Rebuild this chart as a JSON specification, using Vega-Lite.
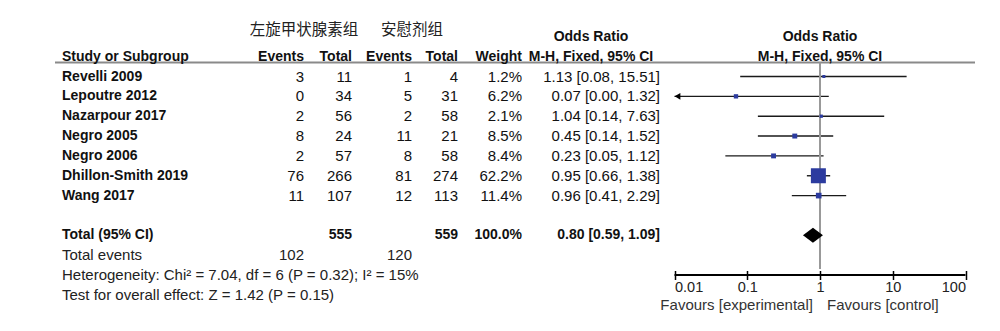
{
  "$schema": "https://vega.github.io/schema/vega-lite/v6.json",
  "width": 1000,
  "height": 331,
  "autosize": {"type": "none"},
  "padding": 0,
  "background": "white",
  "config": {
    "view": {"stroke": null},
    "text": {"font": "Liberation Sans", "fontSize": 15, "baseline": "middle", "fill": "#111"}
  },
  "datasets": {
    "head": [{"study": "Study or Subgroup", "e1": "Events", "t1": "Total", "e2": "Events", "t2": "Total", "w": "Weight", "r": -1}],
    "groups": [{"exp": "左旋甲状腺素组", "ctl": "安慰剂组", "r": -2}],
    "orhead": [{"text": "Odds Ratio", "r": -2}, {"text": "M-H, Fixed, 95% CI", "r": -1}],
    "studies": [
      {"study": "Revelli 2009", "e1": 3, "t1": 11, "e2": 1, "t2": 4, "w": 0.012, "or": 1.13, "lo": 0.08, "hi": 15.51, "r": 0},
      {"study": "Lepoutre 2012", "e1": 0, "t1": 34, "e2": 5, "t2": 31, "w": 0.062, "or": 0.07, "lo": 0.0037, "hi": 1.32, "r": 1},
      {"study": "Nazarpour 2017", "e1": 2, "t1": 56, "e2": 2, "t2": 58, "w": 0.021, "or": 1.04, "lo": 0.14, "hi": 7.63, "r": 2},
      {"study": "Negro 2005", "e1": 8, "t1": 24, "e2": 11, "t2": 21, "w": 0.085, "or": 0.45, "lo": 0.14, "hi": 1.52, "r": 3},
      {"study": "Negro 2006", "e1": 2, "t1": 57, "e2": 8, "t2": 58, "w": 0.084, "or": 0.23, "lo": 0.05, "hi": 1.12, "r": 4},
      {"study": "Dhillon-Smith 2019", "e1": 76, "t1": 266, "e2": 81, "t2": 274, "w": 0.622, "or": 0.95, "lo": 0.66, "hi": 1.38, "r": 5},
      {"study": "Wang 2017", "e1": 11, "t1": 107, "e2": 12, "t2": 113, "w": 0.114, "or": 0.96, "lo": 0.41, "hi": 2.29, "r": 6}
    ],
    "total": [{"study": "Total (95% CI)", "t1": 555, "t2": 559, "w": 1.0, "or": 0.80, "lo": 0.59, "hi": 1.09, "r": 8}],
    "events": [{"e1": 102, "e2": 120, "r": 9}],
    "notes": [
      {"text": "Total events", "r": 9},
      {"text": "Heterogeneity: Chi² = 7.04, df = 6 (P = 0.32); I² = 15%", "r": 10},
      {"text": "Test for overall effect: Z = 1.42 (P = 0.15)", "r": 11}
    ],
    "favours": [{"exp": "Favours [experimental]", "ctl": "Favours [control]"}]
  },
  "layer": [
    {
      "layer": [
        {
          "data": {"name": "head"},
          "mark": {"type": "rule", "stroke": "#8a8a8a", "strokeWidth": 2},
          "encoding": {
            "x": {"datum": 0, "type": "quantitative", "scale": {"type": "linear", "domain": [0,1,2,3,4,5,6,7,8], "range": [55,62,304,352,412,458,522,660,975], "nice": false, "zero": false}, "axis": null},
            "x2": {"datum": 8},
            "y": {"datum": -0.705, "type": "quantitative", "scale": {"type": "linear", "domain": [-3.854, 12.821], "range": [0, 331], "nice": false, "zero": false}, "axis": null}
          }
        },
        {
          "data": {"name": "groups"},
          "mark": {"type": "text", "font": "Noto Sans CJK SC", "fontSize": 15.5, "align": "center", "dy": -7, "fill": "#222"},
          "encoding": {
            "x": {"datum": 2, "type": "quantitative", "scale": {"type": "linear", "domain": [0,1,2,3,4,5,6,7,8], "range": [55,62,304,352,412,458,522,660,975], "nice": false, "zero": false}, "axis": null},
            "y": {"field": "r", "type": "quantitative", "scale": {"type": "linear", "domain": [-3.854, 12.821], "range": [0, 331], "nice": false, "zero": false}, "axis": null},
            "text": {"field": "exp"}
          }
        },
        {
          "data": {"name": "groups"},
          "mark": {"type": "text", "font": "Noto Sans CJK SC", "fontSize": 15.5, "align": "center", "dy": -7, "fill": "#222"},
          "encoding": {
            "x": {"datum": 4, "type": "quantitative", "scale": {"type": "linear", "domain": [0,1,2,3,4,5,6,7,8], "range": [55,62,304,352,412,458,522,660,975], "nice": false, "zero": false}, "axis": null},
            "y": {"field": "r", "type": "quantitative", "scale": {"type": "linear", "domain": [-3.854, 12.821], "range": [0, 331], "nice": false, "zero": false}, "axis": null},
            "text": {"field": "ctl"}
          }
        },
        {
          "data": {"name": "head"},
          "mark": {"type": "text", "fontWeight": "bold", "fontSize": 14, "align": "left"},
          "encoding": {
            "x": {"datum": 1, "type": "quantitative", "scale": {"type": "linear", "domain": [0,1,2,3,4,5,6,7,8], "range": [55,62,304,352,412,458,522,660,975], "nice": false, "zero": false}, "axis": null},
            "y": {"field": "r", "type": "quantitative", "scale": {"type": "linear", "domain": [-3.854, 12.821], "range": [0, 331], "nice": false, "zero": false}, "axis": null},
            "text": {"field": "study"}
          }
        },
        {
          "data": {"name": "head"},
          "mark": {"type": "text", "fontWeight": "bold", "fontSize": 14, "align": "right"},
          "encoding": {
            "x": {"datum": 2, "type": "quantitative", "scale": {"type": "linear", "domain": [0,1,2,3,4,5,6,7,8], "range": [55,62,304,352,412,458,522,660,975], "nice": false, "zero": false}, "axis": null},
            "y": {"field": "r", "type": "quantitative", "scale": {"type": "linear", "domain": [-3.854, 12.821], "range": [0, 331], "nice": false, "zero": false}, "axis": null},
            "text": {"field": "e1"}
          }
        },
        {
          "data": {"name": "head"},
          "mark": {"type": "text", "fontWeight": "bold", "fontSize": 14, "align": "right"},
          "encoding": {
            "x": {"datum": 3, "type": "quantitative", "scale": {"type": "linear", "domain": [0,1,2,3,4,5,6,7,8], "range": [55,62,304,352,412,458,522,660,975], "nice": false, "zero": false}, "axis": null},
            "y": {"field": "r", "type": "quantitative", "scale": {"type": "linear", "domain": [-3.854, 12.821], "range": [0, 331], "nice": false, "zero": false}, "axis": null},
            "text": {"field": "t1"}
          }
        },
        {
          "data": {"name": "head"},
          "mark": {"type": "text", "fontWeight": "bold", "fontSize": 14, "align": "right"},
          "encoding": {
            "x": {"datum": 4, "type": "quantitative", "scale": {"type": "linear", "domain": [0,1,2,3,4,5,6,7,8], "range": [55,62,304,352,412,458,522,660,975], "nice": false, "zero": false}, "axis": null},
            "y": {"field": "r", "type": "quantitative", "scale": {"type": "linear", "domain": [-3.854, 12.821], "range": [0, 331], "nice": false, "zero": false}, "axis": null},
            "text": {"field": "e2"}
          }
        },
        {
          "data": {"name": "head"},
          "mark": {"type": "text", "fontWeight": "bold", "fontSize": 14, "align": "right"},
          "encoding": {
            "x": {"datum": 5, "type": "quantitative", "scale": {"type": "linear", "domain": [0,1,2,3,4,5,6,7,8], "range": [55,62,304,352,412,458,522,660,975], "nice": false, "zero": false}, "axis": null},
            "y": {"field": "r", "type": "quantitative", "scale": {"type": "linear", "domain": [-3.854, 12.821], "range": [0, 331], "nice": false, "zero": false}, "axis": null},
            "text": {"field": "t2"}
          }
        },
        {
          "data": {"name": "head"},
          "mark": {"type": "text", "fontWeight": "bold", "fontSize": 14, "align": "right"},
          "encoding": {
            "x": {"datum": 6, "type": "quantitative", "scale": {"type": "linear", "domain": [0,1,2,3,4,5,6,7,8], "range": [55,62,304,352,412,458,522,660,975], "nice": false, "zero": false}, "axis": null},
            "y": {"field": "r", "type": "quantitative", "scale": {"type": "linear", "domain": [-3.854, 12.821], "range": [0, 331], "nice": false, "zero": false}, "axis": null},
            "text": {"field": "w"}
          }
        },
        {
          "data": {"name": "orhead"},
          "mark": {"type": "text", "fontWeight": "bold", "fontSize": 14, "align": "center"},
          "encoding": {
            "x": {"datum": 6.5, "type": "quantitative", "scale": {"type": "linear", "domain": [0,1,2,3,4,5,6,7,8], "range": [55,62,304,352,412,458,522,660,975], "nice": false, "zero": false}, "axis": null},
            "y": {"field": "r", "type": "quantitative", "scale": {"type": "linear", "domain": [-3.854, 12.821], "range": [0, 331], "nice": false, "zero": false}, "axis": null},
            "text": {"field": "text"}
          }
        },
        {
          "data": {"name": "studies"},
          "mark": {"type": "text", "fontWeight": "bold", "fontSize": 14, "align": "left"},
          "encoding": {
            "x": {"datum": 1, "type": "quantitative", "scale": {"type": "linear", "domain": [0,1,2,3,4,5,6,7,8], "range": [55,62,304,352,412,458,522,660,975], "nice": false, "zero": false}, "axis": null},
            "y": {"field": "r", "type": "quantitative", "scale": {"type": "linear", "domain": [-3.854, 12.821], "range": [0, 331], "nice": false, "zero": false}, "axis": null},
            "text": {"field": "study"}
          }
        },
        {
          "data": {"name": "studies"},
          "mark": {"type": "text", "align": "right"},
          "encoding": {
            "x": {"datum": 2, "type": "quantitative", "scale": {"type": "linear", "domain": [0,1,2,3,4,5,6,7,8], "range": [55,62,304,352,412,458,522,660,975], "nice": false, "zero": false}, "axis": null},
            "y": {"field": "r", "type": "quantitative", "scale": {"type": "linear", "domain": [-3.854, 12.821], "range": [0, 331], "nice": false, "zero": false}, "axis": null},
            "text": {"field": "e1", "type": "quantitative", "format": "d"}
          }
        },
        {
          "data": {"name": "studies"},
          "mark": {"type": "text", "align": "right"},
          "encoding": {
            "x": {"datum": 3, "type": "quantitative", "scale": {"type": "linear", "domain": [0,1,2,3,4,5,6,7,8], "range": [55,62,304,352,412,458,522,660,975], "nice": false, "zero": false}, "axis": null},
            "y": {"field": "r", "type": "quantitative", "scale": {"type": "linear", "domain": [-3.854, 12.821], "range": [0, 331], "nice": false, "zero": false}, "axis": null},
            "text": {"field": "t1", "type": "quantitative", "format": "d"}
          }
        },
        {
          "data": {"name": "studies"},
          "mark": {"type": "text", "align": "right"},
          "encoding": {
            "x": {"datum": 4, "type": "quantitative", "scale": {"type": "linear", "domain": [0,1,2,3,4,5,6,7,8], "range": [55,62,304,352,412,458,522,660,975], "nice": false, "zero": false}, "axis": null},
            "y": {"field": "r", "type": "quantitative", "scale": {"type": "linear", "domain": [-3.854, 12.821], "range": [0, 331], "nice": false, "zero": false}, "axis": null},
            "text": {"field": "e2", "type": "quantitative", "format": "d"}
          }
        },
        {
          "data": {"name": "studies"},
          "mark": {"type": "text", "align": "right"},
          "encoding": {
            "x": {"datum": 5, "type": "quantitative", "scale": {"type": "linear", "domain": [0,1,2,3,4,5,6,7,8], "range": [55,62,304,352,412,458,522,660,975], "nice": false, "zero": false}, "axis": null},
            "y": {"field": "r", "type": "quantitative", "scale": {"type": "linear", "domain": [-3.854, 12.821], "range": [0, 331], "nice": false, "zero": false}, "axis": null},
            "text": {"field": "t2", "type": "quantitative", "format": "d"}
          }
        },
        {
          "data": {"name": "studies"},
          "mark": {"type": "text", "align": "right"},
          "encoding": {
            "x": {"datum": 6, "type": "quantitative", "scale": {"type": "linear", "domain": [0,1,2,3,4,5,6,7,8], "range": [55,62,304,352,412,458,522,660,975], "nice": false, "zero": false}, "axis": null},
            "y": {"field": "r", "type": "quantitative", "scale": {"type": "linear", "domain": [-3.854, 12.821], "range": [0, 331], "nice": false, "zero": false}, "axis": null},
            "text": {"field": "w", "type": "quantitative", "format": ".1%"}
          }
        },
        {
          "data": {"name": "studies"},
          "transform": [{"calculate": "format(datum.or, '.2f') + ' [' + format(datum.lo, '.2f') + ', ' + format(datum.hi, '.2f') + ']'", "as": "orlab"}],
          "mark": {"type": "text", "align": "right"},
          "encoding": {
            "x": {"datum": 7, "type": "quantitative", "scale": {"type": "linear", "domain": [0,1,2,3,4,5,6,7,8], "range": [55,62,304,352,412,458,522,660,975], "nice": false, "zero": false}, "axis": null},
            "y": {"field": "r", "type": "quantitative", "scale": {"type": "linear", "domain": [-3.854, 12.821], "range": [0, 331], "nice": false, "zero": false}, "axis": null},
            "text": {"field": "orlab"}
          }
        },
        {
          "data": {"name": "total"},
          "mark": {"type": "text", "fontWeight": "bold", "fontSize": 14, "align": "left"},
          "encoding": {
            "x": {"datum": 1, "type": "quantitative", "scale": {"type": "linear", "domain": [0,1,2,3,4,5,6,7,8], "range": [55,62,304,352,412,458,522,660,975], "nice": false, "zero": false}, "axis": null},
            "y": {"field": "r", "type": "quantitative", "scale": {"type": "linear", "domain": [-3.854, 12.821], "range": [0, 331], "nice": false, "zero": false}, "axis": null},
            "text": {"field": "study"}
          }
        },
        {
          "data": {"name": "total"},
          "mark": {"type": "text", "fontWeight": "bold", "fontSize": 14, "align": "right"},
          "encoding": {
            "x": {"datum": 3, "type": "quantitative", "scale": {"type": "linear", "domain": [0,1,2,3,4,5,6,7,8], "range": [55,62,304,352,412,458,522,660,975], "nice": false, "zero": false}, "axis": null},
            "y": {"field": "r", "type": "quantitative", "scale": {"type": "linear", "domain": [-3.854, 12.821], "range": [0, 331], "nice": false, "zero": false}, "axis": null},
            "text": {"field": "t1", "type": "quantitative", "format": "d"}
          }
        },
        {
          "data": {"name": "total"},
          "mark": {"type": "text", "fontWeight": "bold", "fontSize": 14, "align": "right"},
          "encoding": {
            "x": {"datum": 5, "type": "quantitative", "scale": {"type": "linear", "domain": [0,1,2,3,4,5,6,7,8], "range": [55,62,304,352,412,458,522,660,975], "nice": false, "zero": false}, "axis": null},
            "y": {"field": "r", "type": "quantitative", "scale": {"type": "linear", "domain": [-3.854, 12.821], "range": [0, 331], "nice": false, "zero": false}, "axis": null},
            "text": {"field": "t2", "type": "quantitative", "format": "d"}
          }
        },
        {
          "data": {"name": "total"},
          "mark": {"type": "text", "fontWeight": "bold", "fontSize": 14, "align": "right"},
          "encoding": {
            "x": {"datum": 6, "type": "quantitative", "scale": {"type": "linear", "domain": [0,1,2,3,4,5,6,7,8], "range": [55,62,304,352,412,458,522,660,975], "nice": false, "zero": false}, "axis": null},
            "y": {"field": "r", "type": "quantitative", "scale": {"type": "linear", "domain": [-3.854, 12.821], "range": [0, 331], "nice": false, "zero": false}, "axis": null},
            "text": {"field": "w", "type": "quantitative", "format": ".1%"}
          }
        },
        {
          "data": {"name": "total"},
          "transform": [{"calculate": "format(datum.or, '.2f') + ' [' + format(datum.lo, '.2f') + ', ' + format(datum.hi, '.2f') + ']'", "as": "orlab"}],
          "mark": {"type": "text", "fontWeight": "bold", "fontSize": 14, "align": "right"},
          "encoding": {
            "x": {"datum": 7, "type": "quantitative", "scale": {"type": "linear", "domain": [0,1,2,3,4,5,6,7,8], "range": [55,62,304,352,412,458,522,660,975], "nice": false, "zero": false}, "axis": null},
            "y": {"field": "r", "type": "quantitative", "scale": {"type": "linear", "domain": [-3.854, 12.821], "range": [0, 331], "nice": false, "zero": false}, "axis": null},
            "text": {"field": "orlab"}
          }
        },
        {
          "data": {"name": "notes"},
          "mark": {"type": "text", "align": "left", "fill": "#222"},
          "encoding": {
            "x": {"datum": 1, "type": "quantitative", "scale": {"type": "linear", "domain": [0,1,2,3,4,5,6,7,8], "range": [55,62,304,352,412,458,522,660,975], "nice": false, "zero": false}, "axis": null},
            "y": {"field": "r", "type": "quantitative", "scale": {"type": "linear", "domain": [-3.854, 12.821], "range": [0, 331], "nice": false, "zero": false}, "axis": null},
            "text": {"field": "text"}
          }
        },
        {
          "data": {"name": "events"},
          "mark": {"type": "text", "align": "right", "fill": "#222"},
          "encoding": {
            "x": {"datum": 2, "type": "quantitative", "scale": {"type": "linear", "domain": [0,1,2,3,4,5,6,7,8], "range": [55,62,304,352,412,458,522,660,975], "nice": false, "zero": false}, "axis": null},
            "y": {"field": "r", "type": "quantitative", "scale": {"type": "linear", "domain": [-3.854, 12.821], "range": [0, 331], "nice": false, "zero": false}, "axis": null},
            "text": {"field": "e1", "type": "quantitative", "format": "d"}
          }
        },
        {
          "data": {"name": "events"},
          "mark": {"type": "text", "align": "right", "fill": "#222"},
          "encoding": {
            "x": {"datum": 4, "type": "quantitative", "scale": {"type": "linear", "domain": [0,1,2,3,4,5,6,7,8], "range": [55,62,304,352,412,458,522,660,975], "nice": false, "zero": false}, "axis": null},
            "y": {"field": "r", "type": "quantitative", "scale": {"type": "linear", "domain": [-3.854, 12.821], "range": [0, 331], "nice": false, "zero": false}, "axis": null},
            "text": {"field": "e2", "type": "quantitative", "format": "d"}
          }
        }
      ]
    },
    {
      "layer": [
        {
          "data": {"name": "studies"},
          "mark": {"type": "rule", "stroke": "#1a1a1a", "strokeWidth": 1.4},
          "encoding": {
            "x": {"field": "lo", "type": "quantitative", "scale": {"type": "log", "domain": [0.01, 100], "range": [674.5, 965.5], "nice": false, "clamp": true},
              "axis": {"orient": "bottom", "offset": -60.5, "values": [0.01, 0.1, 1, 10, 100], "format": "~g", "tickSize": 9, "tickWidth": 1.5, "tickColor": "#000", "domain": false, "grid": false, "labelFlush": true, "labelFont": "Liberation Sans", "labelFontSize": 14.5, "labelColor": "#222", "labelPadding": 1, "labelOverlap": false, "title": null}},
            "x2": {"field": "hi"},
            "y": {"field": "r", "type": "quantitative", "scale": {"type": "linear", "domain": [-3.854, 12.821], "range": [0, 331], "nice": false, "zero": false}, "axis": null}
          }
        },
        {
          "data": {"name": "head"},
          "mark": {"type": "rule", "stroke": "#999", "strokeWidth": 2},
          "encoding": {
            "x": {"datum": 1, "type": "quantitative"},
            "y": {"datum": -0.705, "type": "quantitative", "scale": {"type": "linear", "domain": [-3.854, 12.821], "range": [0, 331], "nice": false, "zero": false}, "axis": null},
            "y2": {"datum": 9.7}
          }
        },
        {
          "data": {"name": "studies"},
          "transform": [{"filter": "datum.lo < 0.01"}],
          "mark": {"type": "point", "shape": "triangle-left", "filled": true, "fill": "#000", "opacity": 1, "size": 45, "xOffset": 3},
          "encoding": {
            "x": {"field": "lo", "type": "quantitative"},
            "y": {"field": "r", "type": "quantitative", "scale": {"type": "linear", "domain": [-3.854, 12.821], "range": [0, 331], "nice": false, "zero": false}, "axis": null}
          }
        },
        {
          "data": {"name": "studies"},
          "mark": {"type": "point", "shape": "square", "filled": true, "fill": "#2c3b9f", "opacity": 1},
          "encoding": {
            "x": {"field": "or", "type": "quantitative"},
            "y": {"field": "r", "type": "quantitative", "scale": {"type": "linear", "domain": [-3.854, 12.821], "range": [0, 331], "nice": false, "zero": false}, "axis": null},
            "size": {"field": "w", "type": "quantitative", "scale": {"type": "pow", "exponent": 1.3, "domain": [0, 0.622], "range": [8, 225], "zero": false}, "legend": null}
          }
        },
        {
          "data": {"name": "total"},
          "mark": {"type": "point", "shape": "M-1,0L0,-0.75L1,0L0,0.75Z", "filled": true, "fill": "#000", "opacity": 1, "size": 400},
          "encoding": {
            "x": {"field": "or", "type": "quantitative"},
            "y": {"field": "r", "type": "quantitative", "scale": {"type": "linear", "domain": [-3.854, 12.821], "range": [0, 331], "nice": false, "zero": false}, "axis": null}
          }
        },
        {
          "data": {"name": "head"},
          "mark": {"type": "rule", "stroke": "#000", "strokeWidth": 2},
          "encoding": {
            "x": {"datum": 0.01, "type": "quantitative"},
            "x2": {"datum": 100},
            "y": {"datum": 10, "type": "quantitative", "scale": {"type": "linear", "domain": [-3.854, 12.821], "range": [0, 331], "nice": false, "zero": false}, "axis": null}
          }
        },
        {
          "data": {"name": "orhead"},
          "mark": {"type": "text", "fontWeight": "bold", "fontSize": 14, "align": "center"},
          "encoding": {
            "x": {"datum": 1, "type": "quantitative"},
            "y": {"field": "r", "type": "quantitative", "scale": {"type": "linear", "domain": [-3.854, 12.821], "range": [0, 331], "nice": false, "zero": false}, "axis": null},
            "text": {"field": "text"}
          }
        },
        {
          "data": {"name": "favours"},
          "mark": {"type": "text", "align": "right", "fill": "#333"},
          "encoding": {
            "x": {"datum": 0.8, "type": "quantitative"},
            "y": {"datum": 11.5, "type": "quantitative", "scale": {"type": "linear", "domain": [-3.854, 12.821], "range": [0, 331], "nice": false, "zero": false}, "axis": null},
            "text": {"field": "exp"}
          }
        },
        {
          "data": {"name": "favours"},
          "mark": {"type": "text", "align": "left", "fill": "#333"},
          "encoding": {
            "x": {"datum": 1.25, "type": "quantitative"},
            "y": {"datum": 11.5, "type": "quantitative", "scale": {"type": "linear", "domain": [-3.854, 12.821], "range": [0, 331], "nice": false, "zero": false}, "axis": null},
            "text": {"field": "ctl"}
          }
        }
      ]
    }
  ],
  "resolve": {"scale": {"x": "independent"}, "axis": {"x": "independent"}}
}
